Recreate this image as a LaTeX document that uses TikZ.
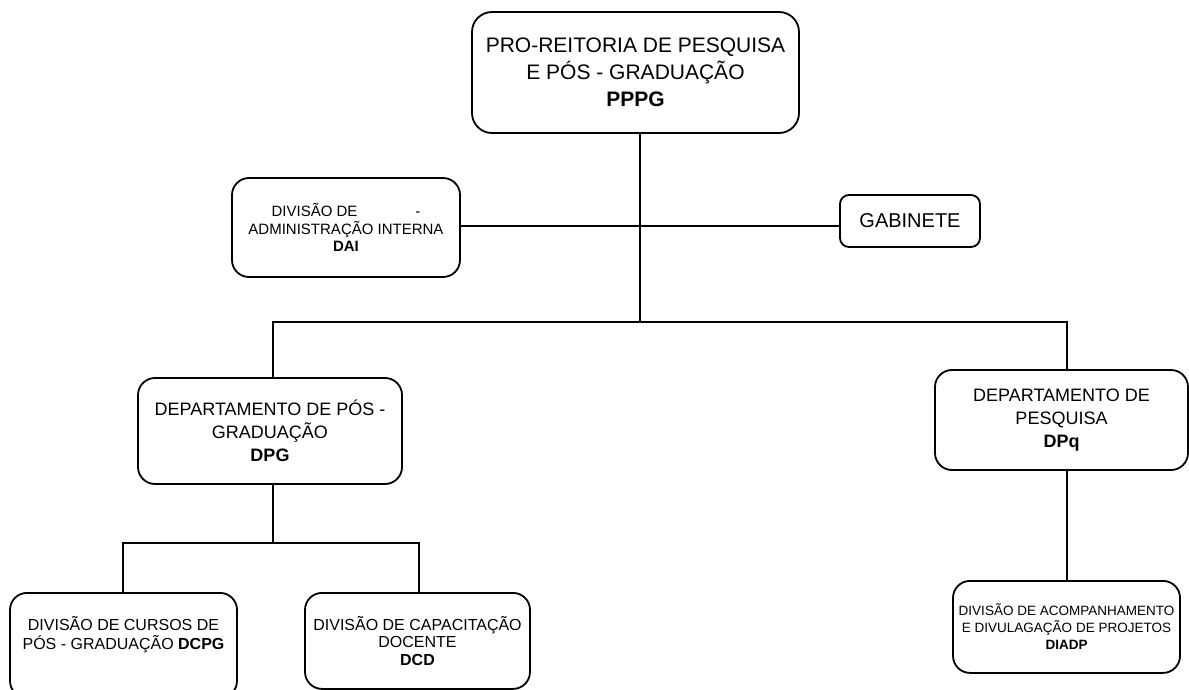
\documentclass[tikz,border=0pt]{standalone}
\usepackage{fontspec}
\setmainfont{Liberation Sans}
\usepackage{tikz}
\usetikzlibrary{positioning}

\begin{document}
\begin{tikzpicture}[x=1pt, y=-1pt, line width=1.8pt,
  box/.style = {draw, rounded corners=17pt, line width=1.8pt, align=center, inner sep=0pt},
  huge/.style = {font=\fontsize{21}{27}\selectfont},
  large/.style = {font=\fontsize{18}{23}\selectfont},
  mid/.style = {font=\fontsize{15}{17.5}\selectfont},
  small/.style = {font=\fontsize{13.5}{17}\selectfont}]
\useasboundingbox (0,0) rectangle (1189,690);
% boxes
\node[box, huge, rounded corners=20pt, minimum width=327pt, minimum height=121pt] (pppg) at (635.5,72.5) {PRO-REITORIA DE PESQUISA\\E PÓS - GRADUAÇÃO\\\textbf{PPPG}};
\node[box, mid, minimum width=228pt, minimum height=99pt] (dai) at (346,227.5) {DIVISÃO DE\hspace{58pt}-\\ADMINISTRAÇÃO INTERNA\\\textbf{DAI}};
\node[box, font=\fontsize{20}{24}\selectfont, rounded corners=9pt, minimum width=140pt, minimum height=52pt] (gab) at (910,221) {GABINETE};
\node[box, large, minimum width=264pt, minimum height=106pt] (dpg) at (270,431) {DEPARTAMENTO DE PÓS -\\GRADUAÇÃO\\\textbf{DPG}};
\node[box, large, minimum width=253pt, minimum height=100pt] (dpq) at (1061.5,420) {DEPARTAMENTO DE\\PESQUISA\\\textbf{DPq}};
\node[box, font=\fontsize{16}{19}\selectfont, anchor=north, minimum width=227pt, minimum height=105pt] (dcpg) at (123.5,592) {DIVISÃO DE CURSOS DE\\PÓS - GRADUAÇÃO \textbf{DCPG}\\[5pt]\mbox{}};
\node[box, font=\fontsize{16}{17.5}\selectfont, anchor=north, minimum width=225pt, minimum height=96pt] (dcd) at (417.5,592) {DIVISÃO DE CAPACITAÇÃO\\DOCENTE\\\textbf{DCD}};
\node[box, small, anchor=north, minimum width=227pt, minimum height=92pt] (diadp) at (1066.5,580) {DIVISÃO DE ACOMPANHAMENTO\\E DIVULAGAÇÃO DE PROJETOS\\\textbf{DIADP}};
% connectors
\coordinate (hub) at (640,226);
\coordinate (trunk) at (640,322);
\coordinate (lft) at (273,322);
\coordinate (rgt) at (1067,322);
\coordinate (fork) at (273,543);
\coordinate (fl) at (123,543);
\coordinate (fr) at (419,543);
\draw (pppg.south -| trunk) -- (trunk);
\draw (dai.east |- hub) -- (gab.west |- hub);
\draw (lft |- dpg.north) -- (lft) -- (rgt) -- (rgt |- dpq.north);
\draw (fork |- dpg.south) -- (fork);
\draw (fl |- dcpg.north) -- (fl) -- (fr) -- (fr |- dcd.north);
\draw (rgt |- dpq.south) -- (rgt |- diadp.north);
\end{tikzpicture}
\end{document}
